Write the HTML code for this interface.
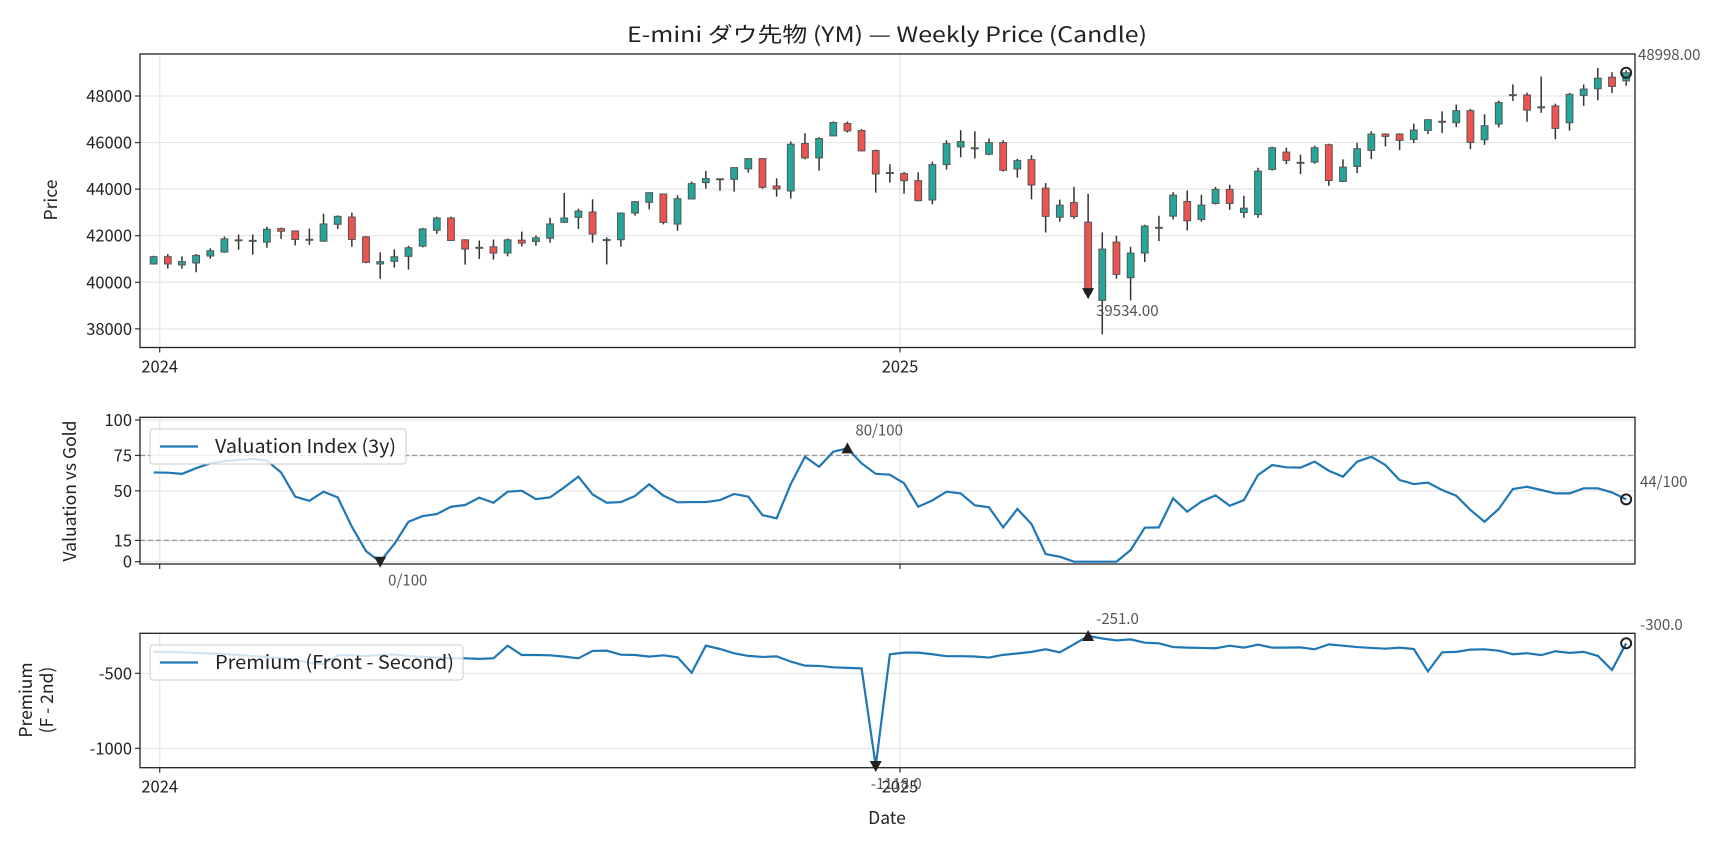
<!DOCTYPE html>
<html><head><meta charset="utf-8">
<style>
html,body{margin:0;padding:0;background:#fff;}
svg{display:block;font-family:"Noto Sans CJK JP","Liberation Sans",sans-serif;}
.ann{font-stretch:condensed;}
</style></head>
<body>
<svg id="chart" width="1728" height="849" viewBox="0 0 1728 849" xmlns="http://www.w3.org/2000/svg">
<rect x="0" y="0" width="1728" height="849" fill="#fff"/>
<text x="887" y="42" font-size="21" text-anchor="middle" fill="#222" textLength="520" lengthAdjust="spacingAndGlyphs">E-mini ダウ先物 (YM) — Weekly Price (Candle)</text>
<g id="g-price"></g>
<g id="g-val"></g>
<g id="g-prem"></g>
</svg>
<script>
const startDate = "2023-12-29";
const opens = [40786,41098,40743,40829,41127,41297,41822,41795,41723,42305,42206,41837,41766,42490,42802,41950,40786,40900,41113,41553,42234,42760,41823,41496,41524,41255,41808,41752,41893,42575,42788,43017,41827,41827,42974,43433,43791,42500,43577,44279,44437,44422,44867,45311,44135,43921,45957,45340,46286,46817,46516,45655,44709,44666,44365,43533,45053,45813,45770,45498,46000,44867,45268,44043,42795,43426,42583,39223,41726,40195,41254,42355,42841,43470,42698,43383,43993,42995,42910,44846,45591,45147,45161,45907,44329,44975,45663,46366,46366,46136,46523,46911,46853,47369,46122,46795,48057,48042,47532,47574,46851,48028,48312,48808,48650];
const highs = [41140,41212,41112,41212,41454,41965,42050,42050,42390,42348,42206,42305,42944,42873,42987,41979,41283,41411,41567,42334,42817,42817,41850,41794,41837,41879,42178,42007,42774,43839,43158,43562,41927,43003,43490,43849,43791,43734,44322,44781,44450,44924,45311,45311,44465,46043,46401,46229,46903,46903,46573,45700,45068,44738,44723,45182,46100,46530,46487,46172,46100,45297,45455,44260,43550,44100,43800,42140,41997,41526,42469,42855,43870,43942,43756,44094,44185,43713,44918,45821,45778,45476,45864,45950,45276,45993,46480,46400,46400,46810,47000,47340,47627,47450,47211,47801,48496,48142,48837,47674,48128,48496,49205,49021,49100];
const lows = [40760,40587,40587,40431,41013,41269,41397,41184,41482,41865,41581,41610,41738,42291,41525,40814,40147,40630,40545,41496,42078,41794,40758,40999,40970,41113,41539,41567,41695,42547,42291,41697,40765,41525,42859,43132,42486,42214,43577,44021,43935,43892,44709,44021,43677,43591,45283,44795,46286,46430,45641,43849,44279,43806,43476,43347,44838,45369,45311,45454,44752,44494,43562,42137,42600,42723,39534,37764,40152,39223,40868,41768,42695,42226,42600,43340,43110,42766,42766,44800,45075,44645,45089,44143,44300,44688,45290,45835,45677,45978,46366,46409,46667,45720,45900,46653,47787,46894,47277,46142,46511,47574,47815,48128,48440];
const closes = [41098,40786,40885,41155,41354,41865,41822,41800,42277,42192,41837,41845,42504,42831,41837,40857,40885,41098,41482,42291,42760,41794,41425,41500,41255,41823,41681,41908,42504,42760,43058,42070,41835,42974,43462,43849,42572,43591,44236,44451,44445,44924,45311,44078,44006,45928,45340,46172,46860,46501,45641,44652,44715,44365,43505,45053,45956,46043,45775,46000,44810,45225,44178,42830,43311,42823,39534,41425,40338,41254,42412,42360,43742,42641,43313,43993,43383,43182,44774,45778,45233,45150,45778,44372,44946,45735,46366,46265,46093,46537,46982,46915,47369,46007,46724,47716,48060,47390,47535,46610,48071,48298,48766,48411,48998];
const valuation = [63,62.8,62,66,69.4,71,71.8,72.5,71.3,63,45.9,43,49.4,45.4,24.7,7.5,0,12.5,28.2,32.2,33.6,38.8,40,45.2,41.6,49.4,50.1,44.2,45.4,52.5,60,47.5,41.6,42.1,46.4,54.6,46.6,41.9,42.1,42.1,43.5,47.8,45.9,32.9,30.6,54.8,74.1,67,77.6,80,69.4,62,61.4,55.3,38.8,43.3,49.4,48.2,39.8,38.4,24.2,37.2,26.6,5.4,3.5,0,0,0,0,8.2,24,24.2,44.7,35.3,42.4,46.8,39.5,43.5,61.2,68.2,66.6,66.4,70.6,64.2,60,70.6,74.1,68.2,57.6,54.8,55.8,50.6,46.6,36.5,28.2,37.2,51.3,52.9,50.6,48.2,48.2,51.8,51.8,48.9,44];
const premium = [-356,-358,-360,-364,-368,-372,-378,-385,-392,-400,-410,-430,-440,-380,-380,-385,-378,-375,-385,-390,-395,-400,-400,-404,-400,-316,-378,-378,-380,-389,-400,-351,-349,-376,-378,-389,-380,-393,-496,-316,-338,-367,-384,-391,-387,-422,-449,-451,-460,-464,-467,-1118,-373,-362,-362,-373,-386,-386,-388,-395,-377,-368,-357,-340,-360,-307,-251,-268,-281,-274,-296,-300,-325,-329,-331,-333,-316,-329,-309,-329,-329,-327,-340,-307,-316,-325,-331,-336,-329,-338,-487,-360,-357,-342,-340,-349,-373,-366,-379,-353,-364,-357,-384,-478,-300];
const priceTicks = [38000,40000,42000,44000,46000,48000];
const valTicks = [0,15,50,75,100];
const premTicks = [-1000,-500];
const yearTicks = ["2024-01-01","2025-01-01"];
const yearLabels = ["2024","2025"];

const NS="http://www.w3.org/2000/svg";
const L=140,R=1635;
const DAY=86400000;
const X0=Date.parse("2024-01-01T00:00:00Z");
function xDate(ms){return 159.7+(ms-X0)/DAY*2.0227;}
function xIdx(i){return xDate(Date.parse(startDate+"T00:00:00Z")+i*7*DAY);}
const P={top:54,bot:347.5,ys:v=>96+(48000-v)*0.023283};
const V={top:417.3,bot:564,ys:v=>561.7-v*1.417};
const B={top:633.3,bot:767.7,ys:v=>673.3+(-500-v)*0.15};
function el(tag,attrs,parent,text){const e=document.createElementNS(NS,tag);for(const k in attrs)e.setAttribute(k,attrs[k]);if(text!==undefined)e.textContent=text;parent.appendChild(e);return e;}

function frame(g,pan,ticks,fmt,showXLabels){
  ticks.forEach(t=>{const l=el('line',{x1:L,x2:R,y1:pan.ys(t),y2:pan.ys(t),stroke:'#e5e5e5','stroke-width':1.2},g);
    
    });
  yearTicks.forEach((d,i)=>{const x=xDate(Date.parse(d+"T00:00:00Z"));
    const gl=el('line',{x1:x,x2:x,y1:pan.top,y2:pan.bot,stroke:'#e5e5e5','stroke-width':1.2},g);
    
    
    const tk=el('line',{x1:x,x2:x,y1:pan.bot,y2:pan.bot+5,stroke:'#333','stroke-width':1.2},g);
    
    
    if(showXLabels){const t=el('text',{x:x,y:pan.bot+25,'font-size':16.5,'text-anchor':'middle',fill:'#222'},g,yearLabels[i]);
      
      }
  });
  ticks.forEach(t=>{const y=pan.ys(t);
    const tk=el('line',{x1:L-5,x2:L,y1:y,y2:y,stroke:'#333','stroke-width':1.2},g);
    
    
    const tx=el('text',{x:L-8,y:y+6,'font-size':16.5,'text-anchor':'end',fill:'#222'},g,fmt(t));
    
    });
}
function spine(g,pan){const r=el('rect',{x:L,y:pan.top,width:R-L,height:pan.bot-pan.top,fill:'none',stroke:'#222','stroke-width':1.3},g);
  
  }
function ylabel(g,x,y,lines){lines.forEach((s,i)=>{const t=el('text',{x:0,y:0,'font-size':17.5,'text-anchor':'middle',fill:'#222',transform:`translate(${x+i*21},${y}) rotate(-90)`},g,s);
  
  });}
function annot(g,x,y,s){const t=el('text',{x:x,y:y,'font-size':15,fill:'#555','class':'ann'},g,s);
  
  }
function tri(g,x,y,up){const d=up?`M${x-6},${y+5} L${x+6},${y+5} L${x},${y-6} Z`:`M${x-6},${y-5} L${x+6},${y-5} L${x},${y+6} Z`;
  const p=el('path',{d:d,fill:'#222'},g);
  
  }
function circ(g,x,y){const c=el('circle',{cx:x,cy:y,r:5,fill:'none',stroke:'#222','stroke-width':2},g);
  
  }
function legend(g,x,y,w,label,tl){const r=el('rect',{x:x,y:y,width:w,height:35,rx:3,fill:'rgba(255,255,255,0.8)',stroke:'#ccc','stroke-width':1},g);
  
  
  const l=el('line',{x1:x+10,x2:x+48,y1:y+17.5,y2:y+17.5,stroke:'#1f77b4','stroke-width':2.2},g);
  
  
  const t=el('text',{x:x+65,y:y+24,'font-size':19,fill:'#222',textLength:tl,lengthAdjust:'spacingAndGlyphs'},g,label);
  
  }

const gp=document.getElementById('g-price');
frame(gp,P,priceTicks,v=>String(v),true);
for(let i=0;i<closes.length;i++){
  const x=xIdx(i),o=opens[i],c=closes[i];
  const up=c>=o;
  const w=el('line',{x1:x,x2:x,y1:P.ys(highs[i]),y2:P.ys(lows[i]),stroke:'#333','stroke-width':1.5},gp);
  
  
  const yt=P.ys(Math.max(o,c)),yb=P.ys(Math.min(o,c));
  const b=el('rect',{x:x-3.4,y:yt,width:6.8,height:Math.max(1,yb-yt),fill:up?'#26a69a':'#ef5350',stroke:'#555','stroke-width':1},gp);
  
  
}
spine(gp,P);
ylabel(gp,57,200,["Price"]);
let minI=0,maxLast=closes.length-1;
closes.forEach((v,i)=>{if(v<closes[minI])minI=i;});
tri(gp,xIdx(minI),P.ys(closes[minI]),false);
annot(gp,xIdx(minI)+8,P.ys(closes[minI])+23,closes[minI].toFixed(2));
circ(gp,xIdx(maxLast),P.ys(closes[maxLast]));
annot(gp,1638,60,closes[maxLast].toFixed(2));

const gv=document.getElementById('g-val');
frame(gv,V,valTicks,v=>String(v),false);
[75,15].forEach(t=>{const d=el('line',{x1:L,x2:R,y1:V.ys(t),y2:V.ys(t),stroke:'#999','stroke-width':1.3,'stroke-dasharray':'5,3'},gv);
  
  });
const vl=el('polyline',{points:valuation.map((v,i)=>xIdx(i)+','+V.ys(v)).join(' '),fill:'none',stroke:'#1f77b4','stroke-width':2.2},gv);


let vmin=0,vmax=0;valuation.forEach((v,i)=>{if(v<valuation[vmin])vmin=i;if(v>valuation[vmax])vmax=i;});
tri(gv,xIdx(vmin),V.ys(valuation[vmin]),false);
annot(gv,xIdx(vmin)+8,V.ys(valuation[vmin])+24,Math.round(valuation[vmin])+"/100");
tri(gv,xIdx(vmax),V.ys(valuation[vmax]),true);
annot(gv,xIdx(vmax)+8,V.ys(valuation[vmax])-13,Math.round(valuation[vmax])+"/100");
const vl0=valuation.length-1;
circ(gv,xIdx(vl0),V.ys(valuation[vl0]));
annot(gv,1640,487,Math.round(valuation[vl0])+"/100");
spine(gv,V);
ylabel(gv,76,491,["Valuation vs Gold"]);
legend(gv,150,429,256,"Valuation Index (3y)",181);

const gb=document.getElementById('g-prem');
frame(gb,B,premTicks,v=>String(v),true);
const pl=el('polyline',{points:premium.map((v,i)=>xIdx(i)+','+B.ys(v)).join(' '),fill:'none',stroke:'#1f77b4','stroke-width':2.2},gb);


let pmin=0,pmax=0;premium.forEach((v,i)=>{if(v<premium[pmin])pmin=i;if(v>premium[pmax])pmax=i;});
tri(gb,xIdx(pmin),B.ys(premium[pmin]),false);
annot(gb,xIdx(pmin)-5,B.ys(premium[pmin])+23,premium[pmin].toFixed(1));
tri(gb,xIdx(pmax),B.ys(premium[pmax]),true);
annot(gb,xIdx(pmax)+8,B.ys(premium[pmax])-12,premium[pmax].toFixed(1));
const pl0=premium.length-1;
circ(gb,xIdx(pl0),B.ys(premium[pl0]));
annot(gb,1640,630,premium[pl0].toFixed(1));
spine(gb,B);
ylabel(gb,32,700,["Premium","(F - 2nd)"]);
legend(gb,150,645,313,"Premium (Front - Second)",239);
const xt=el('text',{x:887,y:824,'font-size':17.5,'text-anchor':'middle',fill:'#222'},gb,"Date");


</script>
</body></html>
